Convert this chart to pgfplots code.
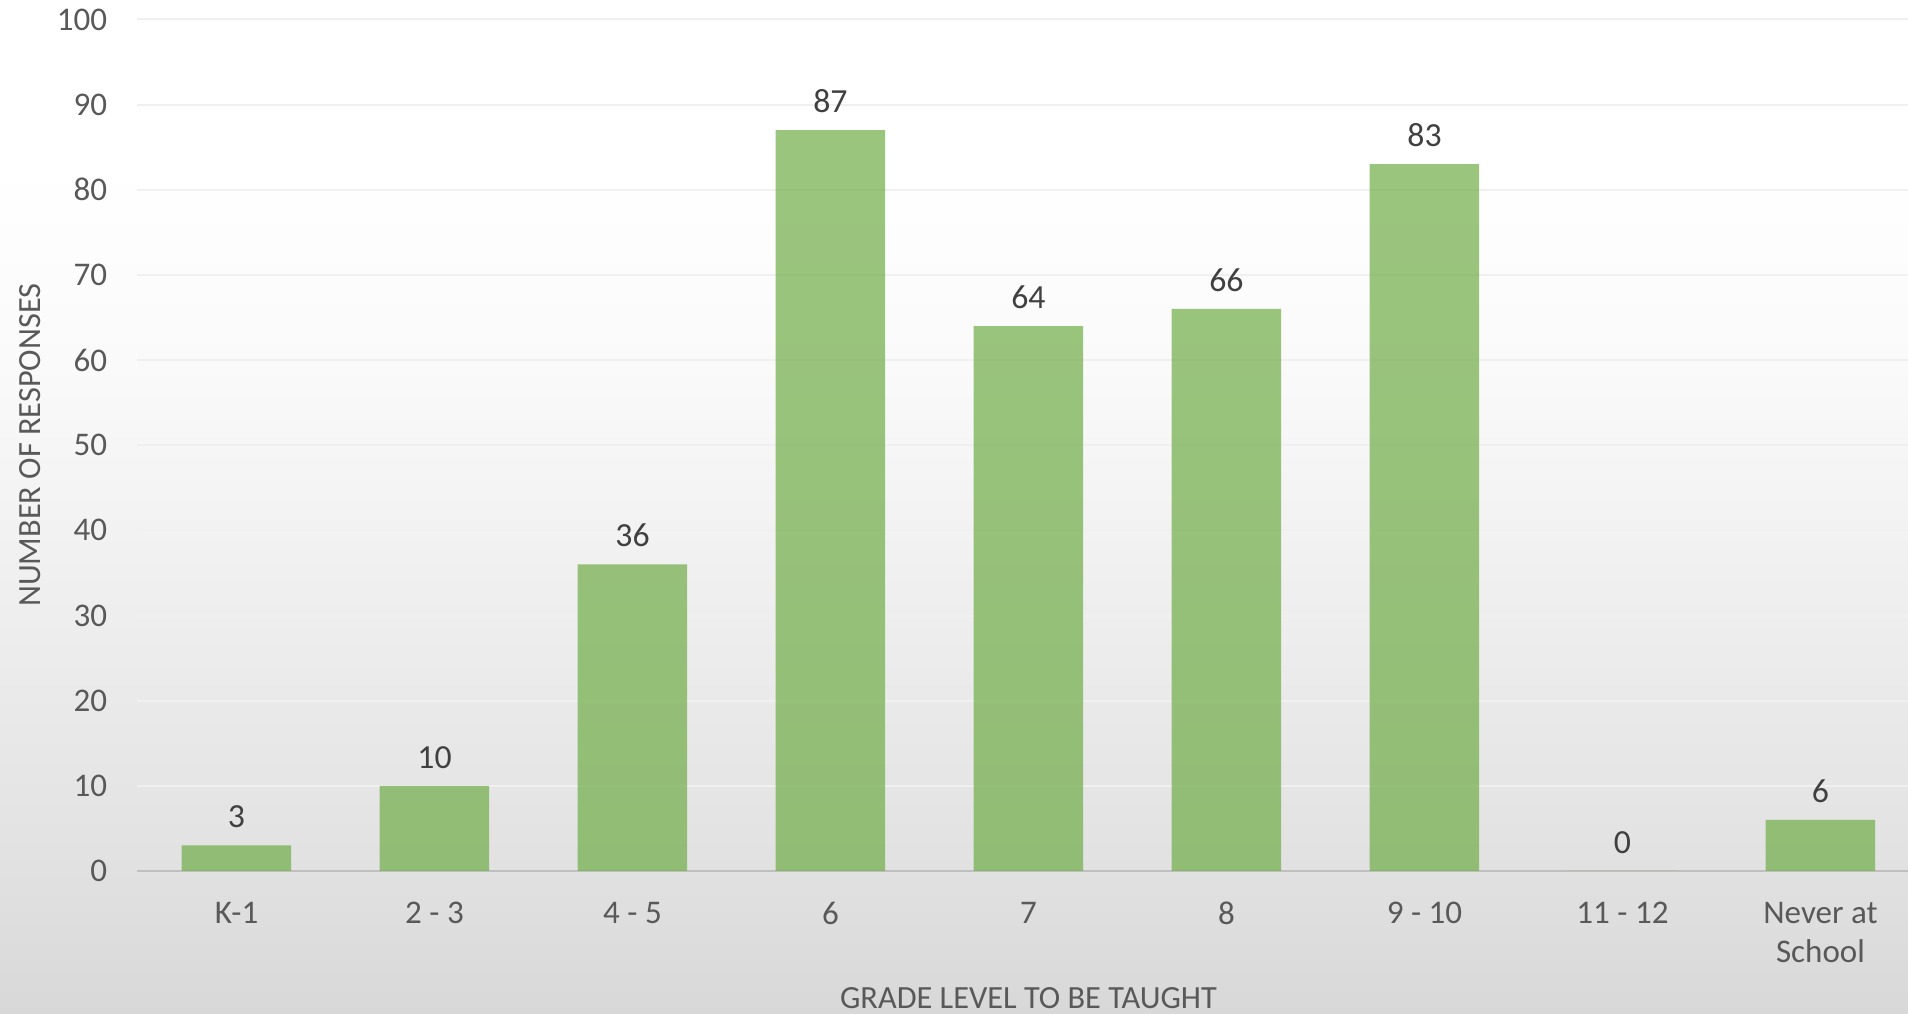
\documentclass[border=0pt]{standalone}
\usepackage{pgfplots}
\pgfplotsset{compat=1.18}
\usepackage{fontspec}
\setmainfont{Carlito}
\definecolor{barc}{RGB}{112,173,71}
\definecolor{tickc}{RGB}{89,89,89}
\definecolor{labc}{RGB}{64,64,64}
\definecolor{bg0}{RGB}{216,216,216}
\definecolor{bg1}{RGB}{226,226,226}
\definecolor{bg2}{RGB}{238,238,238}
\definecolor{bg3}{RGB}{250,250,250}
\pgfdeclareverticalshading{bgshade}{100bp}{color(0bp)=(bg0); color(25bp)=(bg0); color(32.89bp)=(bg1); color(44.72bp)=(bg2); color(57.05bp)=(bg3); color(66.91bp)=(white); color(100bp)=(white)}
\begin{document}
\begin{tikzpicture}
\useasboundingbox (0,0) rectangle (190.8mm,101.4mm);
\shade[shading=bgshade] (0,0) rectangle (190.8mm,101.4mm);
\begin{axis}[
  at={(13.75mm,14.3mm)}, anchor=south west,
  scale only axis, width=178.2mm, height=85.15mm,
  xmin=-0.5, xmax=8.5, ymin=0, ymax=100,
  ytick={0,10,...,100},
  xtick={0,...,8},
  xticklabels={K-1,2 - 3,4 - 5,6,7,8,9 - 10,11 - 12,{Never at\\School}},
  major tick length=0pt,
  axis x line*=bottom, axis y line*=left,
  y axis line style={draw=none},
  x axis line style={draw=gray!50, line width=0.22mm, -},
  ymajorgrids, grid style={draw=gray!12, line width=0.2mm},
  /pgf/number format/assume math mode=true,
  tick label style={font=\fontsize{9.4}{11}\selectfont, text=tickc},
  xticklabel style={align=center, yshift=-1.9mm},
  yticklabel style={xshift=-1.8mm},
  label style={font=\fontsize{9.2}{11}\selectfont, text=tickc},
  ylabel={NUMBER OF RESPONSES},
  ylabel style={at={(axis description cs:-0.0603,0.5)}, anchor=center},
  xlabel={GRADE LEVEL TO BE TAUGHT},
  xlabel style={at={(axis description cs:0.5,-0.149)}, anchor=center},
  ybar, bar width=10.95mm,
  nodes near coords,
  nodes near coords style={font=\fontsize{9.6}{11}\selectfont, text=labc, yshift=0.5mm, /pgf/number format/assume math mode=true},
  clip=false,
]
\addplot[fill=barc, fill opacity=0.7, draw=none, text opacity=1] coordinates {
(0,3) (1,10) (2,36) (3,87) (4,64) (5,66) (6,83) (7,0) (8,6)};
\end{axis}
\end{tikzpicture}
\end{document}
